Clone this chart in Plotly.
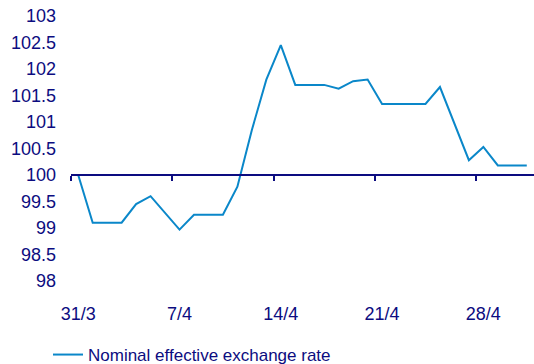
import pandas as pd
import plotly.graph_objects as go

# Daily observations of the nominal effective exchange rate index
dates = ["2014-03-31", "2014-04-01", "2014-04-03", "2014-04-04", "2014-04-05",
         "2014-04-07", "2014-04-08", "2014-04-10", "2014-04-11", "2014-04-12",
         "2014-04-13", "2014-04-14", "2014-04-15", "2014-04-17", "2014-04-18",
         "2014-04-19", "2014-04-20", "2014-04-21", "2014-04-24", "2014-04-25",
         "2014-04-27", "2014-04-28", "2014-04-29", "2014-05-01"]
values = [100.0, 99.1, 99.1, 99.45, 99.6,
          98.97, 99.25, 99.25, 99.78, 100.85,
          101.8, 102.45, 101.7, 101.7, 101.63,
          101.77, 101.8, 101.34, 101.34, 101.66,
          100.28, 100.53, 100.18, 100.18]

tick_dates = ["2014-03-31", "2014-04-07", "2014-04-14", "2014-04-21", "2014-04-28"]
tick_labels = ["31/3", "7/4", "14/4", "21/4", "28/4"]

series_name = "Nominal effective exchange rate"

NAVY = "#0C0C80"
LINE = "#0A87C9"
FONT = "Liberation Sans, Arial, sans-serif"

x = pd.to_datetime(dates)
half_day = pd.Timedelta(hours=12)
x_range = [x.min() - half_day, x.max() + half_day]
# category boundaries: tick marks sit half a day before each labelled date
boundaries = [d - half_day for d in pd.to_datetime(tick_dates)]

y_min, y_max, base = 98, 103, 100

fig = go.Figure()
fig.add_trace(go.Scatter(
    x=x, y=values, mode="lines", name=series_name,
    line=dict(color=LINE, width=2), xaxis="x", yaxis="y",
))
# carrier for the base-line axis crossing at 100
fig.add_trace(go.Scatter(
    x=x, y=values, mode="lines", showlegend=False, hoverinfo="skip",
    line=dict(color="rgba(0,0,0,0)", width=0), xaxis="x2", yaxis="y",
))

fig.update_layout(
    width=534, height=364,
    margin=dict(l=71, r=0, t=16, b=83, autoexpand=False),
    paper_bgcolor="white", plot_bgcolor="white",
    font=dict(family=FONT, color=NAVY, size=18),
    showlegend=True,
    legend=dict(
        x=(48 - 71) / 463, y=-(355 - 281) / 265, xanchor="left", yanchor="middle",
        font=dict(size=17, color=NAVY), bgcolor="rgba(0,0,0,0)",
    ),
    xaxis=dict(
        range=x_range, showgrid=False, zeroline=False, showline=False,
        ticks="", tickvals=pd.to_datetime(tick_dates), ticktext=tick_labels,
        tickfont=dict(size=18, color=NAVY), ticklabelstandoff=20,
        automargin=False,
    ),
    xaxis2=dict(
        overlaying="x", matches="x", anchor="free",
        position=(base - y_min) / (y_max - y_min), side="bottom",
        showgrid=False, zeroline=False, showline=True, linecolor=NAVY, linewidth=2,
        ticks="outside", ticklen=5, tickwidth=2, tickcolor=NAVY,
        tickvals=boundaries, showticklabels=False, automargin=False,
    ),
    yaxis=dict(
        range=[y_min, y_max], dtick=0.5, showgrid=False, zeroline=False,
        showline=False, ticks="", tickfont=dict(size=18, color=NAVY),
        ticklabelstandoff=14, automargin=False,
    ),
)

fig.write_html("out.html")
